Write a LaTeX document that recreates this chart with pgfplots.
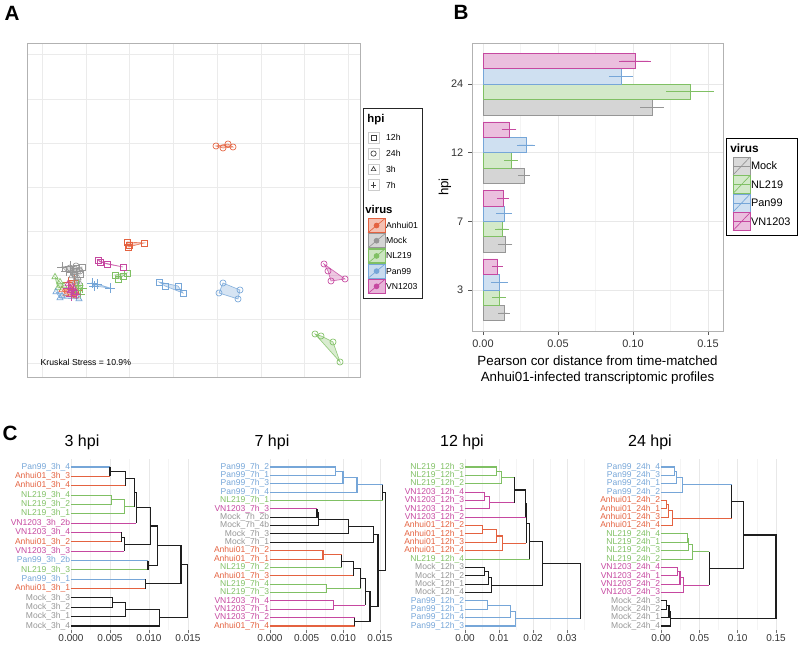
\documentclass[border=0pt]{standalone}
\usepackage{pgfplots}
\pgfplotsset{compat=1.18}
\usepackage{fontspec}
\setmainfont{Liberation Sans}
\definecolor{canh}{RGB}{228,98,64}
\definecolor{cmock}{RGB}{150,150,150}
\definecolor{cnl}{RGB}{128,192,100}
\definecolor{cpan}{RGB}{118,166,216}
\definecolor{cvn}{RGB}{198,72,160}
\definecolor{cblk}{RGB}{30,30,30}
\newcommand{\LA}[1]{\textcolor{canh}{#1}}
\newcommand{\LM}[1]{\textcolor{cmock}{#1}}
\newcommand{\LN}[1]{\textcolor{cnl}{#1}}
\newcommand{\LP}[1]{\textcolor{cpan}{#1}}
\newcommand{\LV}[1]{\textcolor{cvn}{#1}}
\pgfplotsset{
  hullA/.style={draw=#1, draw opacity=0.8, fill=#1, fill opacity=0.3, line width=0.5pt, forget plot},
  sq/.style={only marks, mark=square, mark size=2.2pt, line width=0.5pt, color=#1, forget plot},
  ci/.style={only marks, mark=o, mark size=2.3pt, line width=0.5pt, color=#1, forget plot},
  tr/.style={only marks, mark=triangle, mark size=2.7pt, line width=0.5pt, color=#1, forget plot},
  pl/.style={only marks, mark=+, mark size=3.5pt, line width=0.5pt, color=#1, forget plot},
  vkeyA/.style={legend image code/.code={%
     \fill[#1, fill opacity=0.4] (0pt,-5.3pt) rectangle (12.75pt,5.3pt);
     \draw[#1, line width=0.5pt] (0pt,-5.3pt) rectangle (12.75pt,5.3pt);
     \draw[#1, line width=0.5pt] (0pt,-5.3pt) -- (12.75pt,5.3pt);
     \fill[#1] (6.375pt,0pt) circle (1.7pt);}},
  hkeyA/.style={legend image code/.code={%
     \path[draw=none, fill=none] (0pt,-5.9pt) rectangle (12.75pt,5.9pt);
     \draw[gray!40, fill=white, line width=0.4pt] (0pt,-4.1pt) rectangle (8.2pt,4.1pt);
     \draw[black!75, line width=0.5pt, fill=none] plot[only marks, mark=#1, mark size=2pt] coordinates {(4.1pt,0pt)};}},
  vkeyB/.style={legend image code/.code={%
     \draw[#1, fill=#1!35, line width=0.5pt] (0pt,-6.7pt) rectangle (12.75pt,6.7pt);
     \draw[#1, line width=0.5pt] (0pt,-6.7pt) -- (12.75pt,6.7pt);
     \draw[#1, line width=0.7pt] (0pt,0pt) -- (12.75pt,0pt);}},
  dendro/.style={scale only axis, anchor=south west, height=128.25pt, y dir=reverse,
     axis line style={draw=none}, tick pos=left, tick align=outside,
     major tick length=2.5pt, minor tick length=0pt, scaled ticks=false,
     xtick style={black!55, line width=0.5pt}, ytick style={draw=none},
     xmajorgrids, xminorgrids,
     major grid style={gray!18, line width=0.5pt}, minor grid style={gray!9, line width=0.4pt},
     yticklabel style={font=\fontsize{6.4}{7}\selectfont, inner xsep=0.5pt, xshift=2.5pt},
     xticklabel style={font=\fontsize{7.5}{8}\selectfont, text=black!80, inner ysep=1pt},
     unbounded coords=jump, clip=false, xmin=0},
  dl/.style={line width=0.8pt, color=#1, forget plot},
  ebar/.style={xbar, bar width=0.225, bar shift=0pt, draw=#1, line width=0.5pt, forget plot,
     error bars/.cd, x dir=both, x explicit, error bar style={#1, line width=0.6pt},
     error mark options={#1, mark size=1.6pt, line width=0.6pt}},
}
\begin{document}
\begin{tikzpicture}
\path[use as bounding box] (0,0) rectangle (600pt,486pt);

% ---------------- Panel A ----------------
\begin{axis}[at={(20.25pt,203.25pt)}, anchor=south west, scale only axis,
  width=249.75pt, height=250.5pt,
  xmin=27, xmax=360, ymin=43, ymax=377, y dir=reverse,
  xtick={42,86,129,173,217,261,304,348}, ytick={54,99,143,187,231,275,319,363},
  xticklabels={}, yticklabels={}, major tick length=0pt, scaled ticks=false,
  grid=major, major grid style={gray!16, line width=0.5pt},
  axis line style={gray!60, line width=0.6pt},
  legend cell align=left,
  legend style={at={(1.009,0.805)}, anchor=north west, draw=black!85, line width=0.8pt,
     inner xsep=3pt, inner ysep=3.5pt, font=\fontsize{6.5}{7}\selectfont, row sep=0pt,
     nodes={inner sep=0.4pt, text depth=}, /tikz/every even column/.append style={column sep=2pt}}]
% Anhui01
\addplot[hullA=canh] coordinates {(216,146)(228,144)(233,147)(223,148)} --cycle;
\addplot[ci=canh] coordinates {(216,146)(223,148)(228,144)(233,147)};
\addplot[hullA=canh] coordinates {(127,242)(144,243)(128,247)} --cycle;
\addplot[sq=canh] coordinates {(127,242)(129,245)(144,243)(128,247)};
\addplot[hullA=canh] coordinates {(74,280)(78,290)(72,292)(68,282)} --cycle;
\addplot[pl=canh] coordinates {(68,282)(74,280)(78,290)(72,292)};
\addplot[hullA=canh] coordinates {(62,290)(70,288)(76,296)(66,294)} --cycle;
\addplot[tr=canh] coordinates {(62,290)(70,288)(76,296)(66,294)};
% Mock
\addplot[hullA=cmock] coordinates {(70,268)(76,266)(80,271)(74,274)} --cycle;
\addplot[ci=cmock] coordinates {(70,268)(76,266)(80,271)(74,274)};
\addplot[hullA=cmock] coordinates {(76,268)(82,267)(80,274)(73,271)} --cycle;
\addplot[sq=cmock] coordinates {(76,268)(82,267)(80,274)(73,271)};
\addplot[hullA=cmock] coordinates {(62,267)(70,266)(72,272)(66,271)} --cycle;
\addplot[pl=cmock] coordinates {(62,267)(70,266)(72,272)(66,271)};
\addplot[hullA=cmock] coordinates {(72,276)(78,278)(80,284)(75,282)} --cycle;
\addplot[tr=cmock] coordinates {(72,276)(78,278)(80,284)(75,282)};
% NL219
\addplot[hullA=cnl] coordinates {(315,334)(321,336)(333,342)(340,362)} --cycle;
\addplot[ci=cnl] coordinates {(315,334)(321,336)(333,342)(340,362)};
\addplot[hullA=cnl] coordinates {(115,275)(127,273)(123,276)(118,279)} --cycle;
\addplot[sq=cnl] coordinates {(115,275)(118,279)(123,276)(127,273)};
\addplot[hullA=cnl] coordinates {(78,285)(82,288)(80,294)(75,290)} --cycle;
\addplot[pl=cnl] coordinates {(78,285)(82,288)(80,294)(75,290)};
\addplot[hullA=cnl] coordinates {(55,277)(64,286)(58,288)} --cycle;
\addplot[tr=cnl] coordinates {(55,277)(60,282)(64,286)(58,288)};
% Pan99
\addplot[hullA=cpan] coordinates {(223,283)(240,290)(238,299)(219,293)} --cycle;
\addplot[ci=cpan] coordinates {(223,283)(240,290)(238,299)(219,293)};
\addplot[hullA=cpan] coordinates {(159,282)(178,286)(183,293)(165,286)} --cycle;
\addplot[sq=cpan] coordinates {(159,282)(178,286)(183,293)(165,286)};
\addplot[hullA=cpan] coordinates {(92,283)(97,284)(110,288)(94,286)} --cycle;
\addplot[pl=cpan] coordinates {(92,283)(97,284)(110,288)(94,286)};
\addplot[hullA=cpan] coordinates {(56,292)(79,299)(60,298)} --cycle;
\addplot[tr=cpan] coordinates {(56,292)(62,296)(79,299)(60,298)};
% VN1203
\addplot[hullA=cvn] coordinates {(324,264)(345,279)(331,281)(328,271)} --cycle;
\addplot[ci=cvn] coordinates {(324,264)(328,271)(345,279)(331,281)};
\addplot[hullA=cvn] coordinates {(98,260)(107,264)(123,267)(100,262)} --cycle;
\addplot[sq=cvn] coordinates {(98,260)(107,264)(123,267)(100,262)};
\addplot[hullA=cvn] coordinates {(68,288)(73,290)(76,294)(71,296)} --cycle;
\addplot[pl=cvn] coordinates {(68,288)(73,290)(76,294)(71,296)};
\addplot[hullA=cvn] coordinates {(68,284)(73,287)(75,292)(70,291)} --cycle;
\addplot[tr=cvn] coordinates {(68,284)(73,287)(75,292)(70,291)};
% legend
\addlegendimage{empty legend}\addlegendentry{\hspace*{-15.55pt}\fontsize{8.5}{9}\selectfont\bfseries\rule[-5.5pt]{0pt}{10pt}hpi}
\addlegendimage{hkeyA=square}\addlegendentry{12h}
\addlegendimage{hkeyA=o}\addlegendentry{24h}
\addlegendimage{hkeyA=triangle}\addlegendentry{3h}
\addlegendimage{hkeyA=+}\addlegendentry{7h}
\addlegendimage{empty legend}\addlegendentry{\hspace*{-15.55pt}\fontsize{8.5}{9}\selectfont\bfseries\rule[-2.9pt]{0pt}{18pt}virus}
\addlegendimage{vkeyA=canh}\addlegendentry{Anhui01}
\addlegendimage{vkeyA=cmock}\addlegendentry{Mock}
\addlegendimage{vkeyA=cnl}\addlegendentry{NL219}
\addlegendimage{vkeyA=cpan}\addlegendentry{Pan99}
\addlegendimage{vkeyA=cvn}\addlegendentry{VN1203}
\end{axis}
\node[anchor=west, font=\fontsize{6.5}{7}\selectfont] at (27pt,214.5pt) {Kruskal Stress = 10.9\%};

% ---------------- Panel B ----------------
\begin{axis}[at={(354pt,237.75pt)}, anchor=south west, scale only axis,
  width=188.25pt, height=216pt,
  xmin=-0.00733, xmax=0.16, ymin=-0.6, ymax=3.6, scaled ticks=false,
  xtick={0,0.05,0.1,0.15}, xticklabels={0.00,0.05,0.10,0.15},
  minor xtick={0.025,0.075,0.125},
  ytick={0,1,2,3}, yticklabels={3,7,12,24},
  xmajorgrids, xminorgrids, ymajorgrids,
  major grid style={gray!18, line width=0.5pt}, minor grid style={gray!9, line width=0.4pt},
  tick pos=left, tick align=outside, major tick length=3pt, minor tick length=0pt,
  tick style={black!65, line width=0.5pt},
  axis line style={gray!60, line width=0.6pt},
  ticklabel style={font=\fontsize{8.2}{9}\selectfont, text=black!80},
  ylabel={hpi}, ylabel style={at={(axis description cs:-0.108,0.5)}, anchor=center, font=\fontsize{10}{12}\selectfont},
  xlabel={Pearson cor distance from time-matched\\Anhui01-infected transcriptomic profiles},
  xlabel style={at={(axis description cs:0.5,-0.135)}, anchor=center, align=center, font=\fontsize{10}{12}\selectfont},
  legend cell align=left,
  legend style={at={(1.012,0.5)}, anchor=west, draw=black, line width=0.8pt,
     inner xsep=4.5pt, inner ysep=3.5pt, font=\fontsize{8.2}{9}\selectfont, row sep=0pt,
     nodes={inner sep=0.4pt, text depth=}, /tikz/every even column/.append style={column sep=2pt}}]
% bars: y = category index (3h=0, 7h=1, 12h=2, 24h=3) plus dodge offset
\addplot[fill=cmock!40, ebar=cmock]
  coordinates {(0.0140,-0.3375) +- (0.0023,0) (0.0147,0.6625) +- (0.0035,0) (0.0273,1.6625) +- (0.0023,0) (0.1127,2.6625) +- (0.0063,0)};
\addplot[fill=cnl!35, ebar=cnl]
  coordinates {(0.0107,-0.1125) +- (0.003,0) (0.0127,0.8875) +- (0.003,0) (0.0187,1.8875) +- (0.003,0) (0.1380,2.8875) +- (0.0143,0)};
\addplot[fill=cpan!35, ebar=cpan]
  coordinates {(0.0110,0.1125) +- (0.004,0) (0.0140,1.1125) +- (0.0037,0) (0.0287,2.1125) +- (0.0047,0) (0.0920,3.1125) +- (0.0067,0)};
\addplot[fill=cvn!35, ebar=cvn]
  coordinates {(0.0097,0.3375) +- (0.002,0) (0.0133,1.3375) +- (0.0025,0) (0.0173,2.3375) +- (0.0035,0) (0.1013,3.3375) +- (0.009,0)};
\addlegendimage{empty legend}\addlegendentry{\hspace*{-15.55pt}\fontsize{8.9}{9}\selectfont\bfseries\rule[-3pt]{0pt}{7.9pt}virus}
\addlegendimage{vkeyB=cmock}\addlegendentry{Mock}
\addlegendimage{vkeyB=cnl}\addlegendentry{NL219}
\addlegendimage{vkeyB=cpan}\addlegendentry{Pan99}
\addlegendimage{vkeyB=cvn}\addlegendentry{VN1203}
\end{axis}

% ---------------- Panel C: 3 hpi ----------------
\begin{axis}[dendro, at={(53.25pt,13.5pt)}, width=95.36pt, xmax=0.0163, ymin=0.145, ymax=18.43,
  xtick={0,0.005,0.01,0.015}, xticklabels={0.000,0.005,0.010,0.015}, minor xtick={0.0025,0.0075,0.0125},
  ytick={1,...,18},
  yticklabels={\LP{Pan99\_3h\_4},\LA{Anhui01\_3h\_3},\LA{Anhui01\_3h\_4},\LN{NL219\_3h\_4},\LN{NL219\_3h\_2},\LN{NL219\_3h\_1},\LV{VN1203\_3h\_2b},\LV{VN1203\_3h\_4},\LA{Anhui01\_3h\_2},\LV{VN1203\_3h\_3},\LP{Pan99\_3h\_2b},\LN{NL219\_3h\_3},\LP{Pan99\_3h\_1},\LA{Anhui01\_3h\_1},\LM{Mock\_3h\_3},\LM{Mock\_3h\_2},\LM{Mock\_3h\_1},\LM{Mock\_3h\_4}}]
\addplot[dl=cpan] coordinates {(0,1)(0.005,1) (nan,nan) (0,11)(0.00987,11) (nan,nan) (0,13)(0.00957,13)};
\addplot[dl=canh] coordinates {(0,2)(0.005,2) (nan,nan) (0,3)(0.00697,3) (nan,nan) (0,9)(0.00645,9) (nan,nan) (0,14)(0.00957,14)};
\addplot[dl=cnl] coordinates {(0,4)(0.0052,4)(0.0052,5)(0,5) (nan,nan) (0.0052,4.5)(0.0068,4.5)(0.0068,6)(0,6) (nan,nan) (0.0068,5.25)(0.00816,5.25) (nan,nan) (0,12)(0.00987,12)};
\addplot[dl=cvn] coordinates {(0,7)(0.00838,7) (nan,nan) (0,8)(0.00645,8) (nan,nan) (0,10)(0.00684,10)};
\addplot[dl=cblk] coordinates {(0.005,1)(0.005,2) (nan,nan)
 (0.005,1.5)(0.00697,1.5)(0.00697,3) (nan,nan)
 (0.00697,2.25)(0.00816,2.25)(0.00816,5.25) (nan,nan)
 (0.00816,3.75)(0.00838,3.75)(0.00838,7) (nan,nan)
 (0.00838,5.375)(0.0102,5.375)(0.0102,9.25)(0.00684,9.25) (nan,nan)
 (0.00645,8)(0.00645,9) (nan,nan)
 (0.00645,8.5)(0.00684,8.5)(0.00684,10) (nan,nan)
 (0.0102,7.3125)(0.0111,7.3125)(0.0111,11.5)(0.00987,11.5) (nan,nan)
 (0.00987,11)(0.00987,12) (nan,nan)
 (0.0111,9.406)(0.0141,9.406)(0.0141,13.5)(0.00957,13.5) (nan,nan)
 (0.00957,13)(0.00957,14) (nan,nan)
 (0.0141,11.453)(0.01496,11.453)(0.01496,17.125)(0.0113,17.125) (nan,nan)
 (0,15)(0.0053,15)(0.0053,16)(0,16) (nan,nan)
 (0.0053,15.5)(0.00697,15.5)(0.00697,17)(0,17) (nan,nan)
 (0.00697,16.25)(0.0113,16.25)(0.0113,18)(0,18)};
\end{axis}

% ---------------- Panel C: 7 hpi ----------------
\begin{axis}[dendro, at={(202.5pt,13.5pt)}, width=90.75pt, xmax=0.0165, ymin=0.044, ymax=20.48,
  xtick={0,0.005,0.01,0.015}, xticklabels={0.000,0.005,0.010,0.015}, minor xtick={0.0025,0.0075,0.0125},
  ytick={1,...,20},
  yticklabels={\LP{Pan99\_7h\_2},\LP{Pan99\_7h\_1},\LP{Pan99\_7h\_3},\LP{Pan99\_7h\_4},\LN{NL219\_7h\_1},\LV{VN1203\_7h\_3},\LM{Mock\_7h\_2b},\LM{Mock\_7h\_4b},\LM{Mock\_7h\_3},\LM{Mock\_7h\_1},\LA{Anhui01\_7h\_2},\LA{Anhui01\_7h\_1},\LN{NL219\_7h\_2},\LA{Anhui01\_7h\_3},\LN{NL219\_7h\_4},\LN{NL219\_7h\_3},\LV{VN1203\_7h\_4},\LV{VN1203\_7h\_1},\LV{VN1203\_7h\_2},\LA{Anhui01\_7h\_4}}]
\addplot[dl=cpan] coordinates {(0,1)(0.00895,1)(0.00895,2)(0,2) (nan,nan)
 (0.00895,1.5)(0.00995,1.5)(0.00995,3)(0,3) (nan,nan)
 (0.00995,2.25)(0.01186,2.25)(0.01186,4)(0,4) (nan,nan)
 (0.01186,3.125)(0.01536,3.125)};
\addplot[dl=cnl] coordinates {(0,5)(0.01536,5) (nan,nan) (0,13)(0.00977,13) (nan,nan)
 (0,15)(0.00768,15)(0.00768,16)(0,16) (nan,nan) (0.00768,15.5)(0.0124,15.5)};
\addplot[dl=cvn] coordinates {(0,6)(0.00641,6) (nan,nan)
 (0,17)(0.00868,17)(0.00868,18)(0,18) (nan,nan) (0.00868,17.5)(0.0130,17.5) (nan,nan) (0,19)(0.01155,19)};
\addplot[dl=canh] coordinates {(0,11)(0.00723,11)(0.00723,12)(0,12) (nan,nan)
 (0.00723,11.5)(0.00977,11.5) (nan,nan) (0,14)(0.0114,14) (nan,nan) (0,20)(0.01155,20)};
\addplot[dl=cblk] coordinates {(0.01536,3.125)(0.01536,5) (nan,nan)
 (0.01536,4.0625)(0.01577,4.0625)(0.01577,13.383)(0.01473,13.383) (nan,nan)
 (0.00641,6)(0.00641,7)(0,7) (nan,nan)
 (0.00641,6.5)(0.00655,6.5)(0.00655,8)(0,8) (nan,nan)
 (0.00655,7.25)(0.01068,7.25)(0.01068,9)(0,9) (nan,nan)
 (0.01068,8.125)(0.01414,8.125)(0.01414,10)(0,10) (nan,nan)
 (0.01414,9.0625)(0.01473,9.0625)(0.01473,17.703)(0.01364,17.703) (nan,nan)
 (0.00977,11.5)(0.00977,13) (nan,nan)
 (0.00977,12.25)(0.0114,12.25)(0.0114,14) (nan,nan)
 (0.0114,13.125)(0.0124,13.125)(0.0124,15.5) (nan,nan)
 (0.0124,14.3125)(0.0130,14.3125)(0.0130,17.5) (nan,nan)
 (0.0130,15.906)(0.01364,15.906)(0.01364,19.5)(0.01155,19.5) (nan,nan)
 (0.01155,19)(0.01155,20)};
\end{axis}

% ---------------- Panel C: 12 hpi ----------------
\begin{axis}[dendro, at={(348.75pt,13.5pt)}, width=90.5pt, xmax=0.0355, ymin=0.044, ymax=20.48,
  xtick={0,0.01,0.02,0.03}, xticklabels={0.00,0.01,0.02,0.03}, minor xtick={0.005,0.015,0.025,0.035},
  ytick={1,...,20},
  yticklabels={\LN{NL219\_12h\_3},\LN{NL219\_12h\_1},\LN{NL219\_12h\_2},\LV{VN1203\_12h\_4},\LV{VN1203\_12h\_3},\LV{VN1203\_12h\_1},\LV{VN1203\_12h\_2},\LA{Anhui01\_12h\_2},\LA{Anhui01\_12h\_1},\LA{Anhui01\_12h\_3},\LA{Anhui01\_12h\_4},\LN{NL219\_12h\_4},\LM{Mock\_12h\_3},\LM{Mock\_12h\_2},\LM{Mock\_12h\_1},\LM{Mock\_12h\_4},\LP{Pan99\_12h\_2},\LP{Pan99\_12h\_1},\LP{Pan99\_12h\_4},\LP{Pan99\_12h\_3}}]
\addplot[dl=cnl] coordinates {(0,1)(0.0092,1)(0.0092,2)(0,2) (nan,nan)
 (0.0092,1.5)(0.0107,1.5)(0.0107,3)(0,3) (nan,nan)
 (0.0107,2.25)(0.0145,2.25) (nan,nan) (0,12)(0.019,12)};
\addplot[dl=cvn] coordinates {(0,4)(0.0057,4)(0.0057,5)(0,5) (nan,nan)
 (0.0057,4.5)(0.0073,4.5)(0.0073,6)(0,6) (nan,nan)
 (0.0073,5.25)(0.0145,5.25) (nan,nan) (0,7)(0.0178,7)};
\addplot[dl=canh] coordinates {(0,8)(0.0051,8)(0.0051,9)(0,9) (nan,nan)
 (0.0051,8.5)(0.0092,8.5)(0.0092,10)(0,10) (nan,nan)
 (0.0092,9.25)(0.011,9.25)(0.011,11)(0,11) (nan,nan)
 (0.011,10.125)(0.018,10.125)};
\addplot[dl=cpan] coordinates {(0,17)(0.0065,17)(0.0065,18)(0,18) (nan,nan)
 (0.0065,17.5)(0.0133,17.5)(0.0133,19)(0,19) (nan,nan)
 (0.0133,18.25)(0.0149,18.25)(0.0149,20)(0,20) (nan,nan)
 (0.0149,19.125)(0.034,19.125)};
\addplot[dl=cblk] coordinates {(0.0145,2.25)(0.0145,5.25) (nan,nan)
 (0.0145,3.75)(0.0178,3.75)(0.0178,7) (nan,nan)
 (0.0178,5.375)(0.018,5.375)(0.018,10.125) (nan,nan)
 (0.018,7.75)(0.019,7.75)(0.019,12) (nan,nan)
 (0.019,9.875)(0.0229,9.875)(0.0229,15.125)(0.0079,15.125) (nan,nan)
 (0.0229,12.5)(0.034,12.5)(0.034,19.125) (nan,nan)
 (0,13)(0.0057,13)(0.0057,14)(0,14) (nan,nan)
 (0.0057,13.5)(0.0068,13.5)(0.0068,15)(0,15) (nan,nan)
 (0.0068,14.25)(0.0079,14.25)(0.0079,16)(0,16)};
\end{axis}

% ---------------- Panel C: 24 hpi ----------------
\begin{axis}[dendro, at={(495.75pt,13.5pt)}, width=90.85pt, xmax=0.158, ymin=0.044, ymax=20.48,
  xtick={0,0.05,0.1,0.15}, xticklabels={0.00,0.05,0.10,0.15}, minor xtick={0.025,0.075,0.125},
  ytick={1,...,20},
  yticklabels={\LP{Pan99\_24h\_4},\LP{Pan99\_24h\_3},\LP{Pan99\_24h\_1},\LP{Pan99\_24h\_2},\LA{Anhui01\_24h\_2},\LA{Anhui01\_24h\_1},\LA{Anhui01\_24h\_3},\LA{Anhui01\_24h\_4},\LN{NL219\_24h\_4},\LN{NL219\_24h\_1},\LN{NL219\_24h\_3},\LN{NL219\_24h\_2},\LV{VN1203\_24h\_4},\LV{VN1203\_24h\_1},\LV{VN1203\_24h\_2},\LV{VN1203\_24h\_3},\LM{Mock\_24h\_3},\LM{Mock\_24h\_2},\LM{Mock\_24h\_1},\LM{Mock\_24h\_4}}]
\addplot[dl=cpan] coordinates {(0,1)(0.017,1)(0.017,2)(0,2) (nan,nan)
 (0.017,1.5)(0.02,1.5)(0.02,3)(0,3) (nan,nan)
 (0.02,2.25)(0.0283,2.25)(0.0283,4)(0,4) (nan,nan)
 (0.0283,3.125)(0.0922,3.125)};
\addplot[dl=canh] coordinates {(0,5)(0.0074,5)(0.0074,6)(0,6) (nan,nan)
 (0.0074,5.5)(0.0096,5.5)(0.0096,7)(0,7) (nan,nan)
 (0.0096,6.25)(0.0152,6.25)(0.0152,8)(0,8) (nan,nan)
 (0.0152,7.125)(0.0922,7.125)};
\addplot[dl=cnl] coordinates {(0,9)(0.0348,9)(0.0348,10)(0,10) (nan,nan)
 (0.0348,9.5)(0.0357,9.5)(0.0357,11)(0,11) (nan,nan)
 (0.0357,10.25)(0.0409,10.25)(0.0409,12)(0,12) (nan,nan)
 (0.0409,11.125)(0.063,11.125)};
\addplot[dl=cvn] coordinates {(0,13)(0.0217,13)(0.0217,14)(0,14) (nan,nan)
 (0.0217,13.5)(0.0248,13.5)(0.0248,15)(0,15) (nan,nan)
 (0.0248,14.25)(0.0291,14.25)(0.0291,16)(0,16) (nan,nan)
 (0.0291,15.125)(0.063,15.125)};
\addplot[dl=cblk] coordinates {(0.0922,3.125)(0.0922,7.125) (nan,nan)
 (0.0922,5.125)(0.1074,5.125)(0.1074,13.125)(0.063,13.125) (nan,nan)
 (0.063,11.125)(0.063,15.125) (nan,nan)
 (0.1074,9.125)(0.15,9.125)(0.15,19.125)(0.0122,19.125) (nan,nan)
 (0,17)(0.0074,17)(0.0074,18)(0,18) (nan,nan)
 (0.0074,17.5)(0.0104,17.5)(0.0104,19)(0,19) (nan,nan)
 (0.0104,18.25)(0.0122,18.25)(0.0122,20)(0,20)};
\end{axis}

% titles and panel letters
\node[font=\fontsize{12}{13}\selectfont] at (61.5pt,154.5pt) {3 hpi};
\node[font=\fontsize{12}{13}\selectfont] at (204pt,154.5pt) {7 hpi};
\node[font=\fontsize{12}{13}\selectfont] at (346.5pt,154.5pt) {12 hpi};
\node[font=\fontsize{12}{13}\selectfont] at (487.5pt,154.5pt) {24 hpi};
\node[font=\fontsize{15.5}{16}\selectfont\bfseries] at (9pt,476.25pt) {A};
\node[font=\fontsize{15.5}{16}\selectfont\bfseries] at (345.75pt,477pt) {B};
\node[font=\fontsize{15.5}{16}\selectfont\bfseries] at (7.5pt,161.25pt) {C};
\end{tikzpicture}
\end{document}
